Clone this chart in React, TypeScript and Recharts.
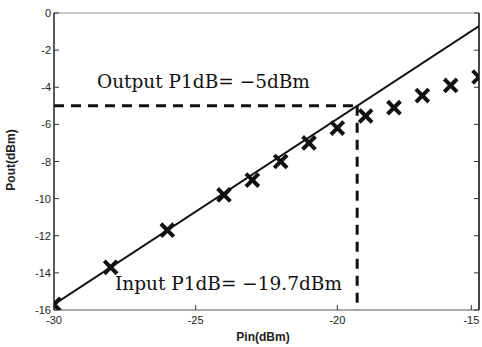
import * as React from 'react';
import { ComposedChart, Scatter, Line, XAxis, YAxis, ReferenceLine } from 'recharts';

// measured points (Pin, Pout) in dBm
const pinValues = [-30, -28, -26, -24, -23, -22, -21, -20, -19, -18, -17, -16, -15];
const poutValues = [-15.7, -13.7, -11.7, -9.8, -9.0, -8.0, -7.0, -6.2, -5.55, -5.1, -4.45, -3.9, -3.45];

// ideal linear gain line
const linePin = [-30, -15];
const linePout = [-15.7, -0.7];

// 1 dB compression point
const p1dbIn = -19.3;
const p1dbOut = -5;

const xTicks = [-30, -25, -20, -15];
const yTicks = [0, -2, -4, -6, -8, -10, -12, -14, -16];

const points = pinValues.map((pin, i) => ({ pin, pout: poutValues[i] }));
const fitLine = linePin.map((pin, i) => ({ pin, pout: linePout[i] }));

const W = 482;
const H = 347;
const tickFont = '"Liberation Sans", Arial, sans-serif';

const CrossMark = (props: any) => {
  const { cx, cy } = props;
  if (cx == null || cy == null) return null;
  const s = 5;
  return (
    <g>
      <line x1={cx - s} y1={cy - s} x2={cx + s} y2={cy + s} stroke="#111" strokeWidth={4} strokeLinecap="square" />
      <line x1={cx - s} y1={cy + s} x2={cx + s} y2={cy - s} stroke="#111" strokeWidth={4} strokeLinecap="square" />
    </g>
  );
};

const XTick = (props: any) => {
  const { x, y, payload } = props;
  return (
    <g>
      <line x1={x} y1={y} x2={x} y2={y - 5} stroke="#333" strokeWidth={1} />
      <text x={x} y={y + 14} textAnchor="middle" fontSize={11} fontFamily={tickFont} fill="#222">
        {payload.value}
      </text>
    </g>
  );
};

const YTick = (props: any) => {
  const { x, y, payload } = props;
  return (
    <g>
      <line x1={x} y1={y} x2={x + 5} y2={y} stroke="#333" strokeWidth={1} />
      <text x={x - 3} y={y + 4} textAnchor="end" fontSize={11} fontFamily={tickFont} fill="#222">
        {payload.value}
      </text>
    </g>
  );
};

const RightTick = (props: any) => {
  const { x, y } = props;
  return <line x1={x} y1={y} x2={x - 5} y2={y} stroke="#333" strokeWidth={1} />;
};

export default function App() {
  return (
    <div style={{ position: 'absolute', left: 0, top: 0, width: W, height: H, background: '#fff' }}>
      <ComposedChart width={W} height={H} margin={{ top: 13, right: 2, bottom: 0, left: 0 }}>
        <XAxis
          type="number"
          dataKey="pin"
          domain={[-30, -15]}
          ticks={xTicks}
          allowDataOverflow
          height={37}
          tickSize={0}
          tickMargin={0}
          tickLine={false}
          axisLine={{ stroke: '#555', strokeWidth: 1.2 }}
          tick={<XTick />}
        />
        <YAxis
          yAxisId="l"
          type="number"
          dataKey="pout"
          domain={[-16, 0]}
          ticks={yTicks}
          allowDataOverflow
          width={54}
          tickSize={0}
          tickMargin={0}
          tickLine={false}
          axisLine={{ stroke: '#222', strokeWidth: 1.5 }}
          tick={<YTick />}
        />
        <YAxis
          yAxisId="r"
          orientation="right"
          type="number"
          dataKey="pout"
          domain={[-16, 0]}
          ticks={yTicks}
          allowDataOverflow
          width={1}
          tickSize={0}
          tickMargin={0}
          tickLine={false}
          axisLine={{ stroke: '#222', strokeWidth: 1.2 }}
          tick={<RightTick />}
        />
        <ReferenceLine yAxisId="l" y={0} stroke="#bbb" strokeWidth={1.5} />
        <ReferenceLine yAxisId="l" x={-15} stroke="#222" strokeWidth={1.2} />
        <ReferenceLine
          yAxisId="l"
          segment={[{ x: -30, y: p1dbOut }, { x: p1dbIn, y: p1dbOut }]}
          stroke="#111"
          strokeWidth={3}
          strokeDasharray="10 7"
        />
        <ReferenceLine
          yAxisId="l"
          segment={[{ x: p1dbIn, y: p1dbOut }, { x: p1dbIn, y: -16 }]}
          stroke="#111"
          strokeWidth={3}
          strokeDasharray="10 7"
        />
        <Line
          yAxisId="r"
          data={fitLine}
          dataKey="pout"
          type="linear"
          stroke="none"
          dot={false}
          activeDot={false}
          isAnimationActive={false}
        />
        <Line
          yAxisId="l"
          data={fitLine}
          dataKey="pout"
          type="linear"
          stroke="#111"
          strokeWidth={2}
          dot={false}
          activeDot={false}
          isAnimationActive={false}
        />
        <Scatter yAxisId="l" data={points} dataKey="pout" shape={<CrossMark />} isAnimationActive={false} />
      </ComposedChart>
      <svg width={W} height={H} style={{ position: 'absolute', left: 0, top: 0, pointerEvents: 'none' }}>
        <text x={97} y={88} fontSize={18.5} fontFamily='"DejaVu Serif", serif' fill="#111">
          Output P1dB= −5dBm
        </text>
        <text x={115} y={290} fontSize={18.5} fontFamily='"DejaVu Serif", serif' fill="#111">
          Input P1dB= −19.7dBm
        </text>
        <text x={263} y={341} textAnchor="middle" fontSize={12} fontWeight="bold" fontFamily={tickFont} fill="#222">
          Pin(dBm)
        </text>
        <text
          x={15}
          y={160}
          textAnchor="middle"
          fontSize={12}
          fontWeight="bold"
          fontFamily={tickFont}
          fill="#222"
          transform="rotate(-90 15 160)"
        >
          Pout(dBm)
        </text>
      </svg>
    </div>
  );
}
